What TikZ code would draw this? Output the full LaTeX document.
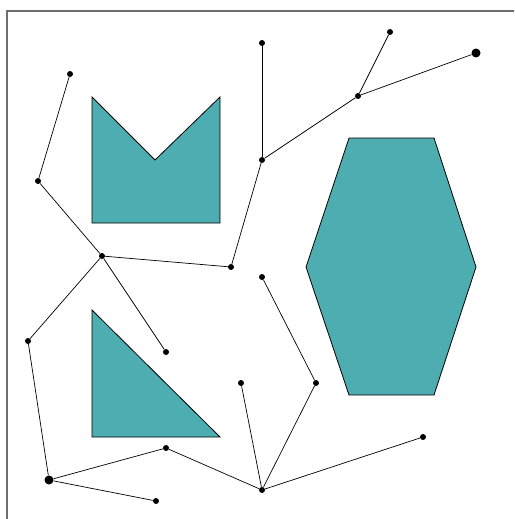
\documentclass[tikz,border=0pt]{standalone}
\usepackage{tikz}
\usetikzlibrary{positioning}
\definecolor{tealfill}{RGB}{77,173,176}
\definecolor{framegray}{RGB}{110,110,110}

\begin{document}
\begin{tikzpicture}[
  x=1pt, y=-1pt,
  dot/.style={circle, fill=black, inner sep=0pt, minimum size=6pt},
  bigdot/.style={circle, fill=black, inner sep=0pt, minimum size=9pt},
  region/.style={draw=black, fill=tealfill, line width=0.8pt, line join=miter},
  link/.style={draw=black, line width=0.7pt}
]

\useasboundingbox (0,0) rectangle (514,519);
\clip (0,0) rectangle (514,519);

% Frame
\draw[framegray, line width=1.2pt] (7,11) rectangle (530,540);

% Obstacles
\draw[region] (92,97) -- (155,160) -- (220,97) -- (220,223) -- (92,223) -- cycle;
\draw[region] (92,310) -- (220,437) -- (92,437) -- cycle;
\draw[region] (349,138) -- (434,138) -- (476,267) -- (434,395)
  -- (349,395) -- (306,267) -- cycle;

% Tree vertices
\node[dot] (a) at (70,74) {};
\node[dot] (b) at (38,181) {};
\node[dot] (c) at (102,256) {};
\node[dot] (d) at (231,267) {};
\node[dot] (e) at (166,352) {};
\node[dot] (f) at (28,341) {};
\node[bigdot] (g) at (49,480) {};
\node[dot] (h) at (156,501) {};
\node[dot] (i) at (166,448) {};
\node[dot] (j) at (262,490) {};
\node[dot] (k) at (241,383) {};
\node[dot] (l) at (316,383) {};
\node[dot] (m) at (262,277) {};
\node[dot] (n) at (423,437) {};
\node[dot] (o) at (262,160) {};
\node[dot] (p) at (262,43) {};
\node[dot] (q) at (358,96) {};
\node[dot] (r) at (390,32) {};
\node[bigdot] (s) at (476,53) {};

% Tree edges
\draw[link] (a) -- (b);
\draw[link] (b) -- (c);
\draw[link] (c) -- (d);
\draw[link] (c) -- (e);
\draw[link] (c) -- (f);
\draw[link] (f) -- (g);
\draw[link] (g) -- (h);
\draw[link] (g) -- (i);
\draw[link] (i) -- (j);
\draw[link] (j) -- (k);
\draw[link] (j) -- (l);
\draw[link] (l) -- (m);
\draw[link] (j) -- (n);
\draw[link] (d) -- (o);
\draw[link] (o) -- (p);
\draw[link] (o) -- (q);
\draw[link] (q) -- (r);
\draw[link] (q) -- (s);

\end{tikzpicture}
\end{document}
